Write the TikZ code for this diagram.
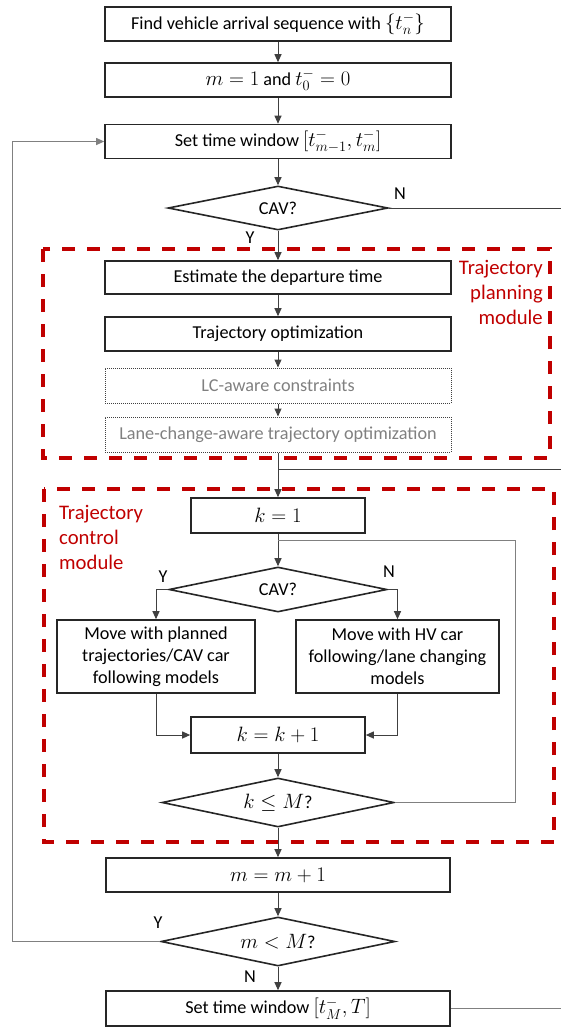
\documentclass[tikz,border=0pt]{standalone}
\usepackage{fontspec}
\setmainfont{Carlito}
\usetikzlibrary{shapes.geometric,arrows.meta}
\definecolor{dred}{HTML}{C00000}
\definecolor{conn}{HTML}{404040}
\definecolor{gline}{HTML}{808080}
\definecolor{gtext}{HTML}{808080}
\newcommand\mth[1]{{\fontsize{20}{22}\selectfont$#1$}}
\begin{document}
\begin{tikzpicture}[x=1pt,y=-1pt,
  font=\fontsize{18.2}{22}\selectfont,
  box/.style={draw=black!85, line width=1.6pt, rectangle, inner sep=0pt, align=center, text=black},
  dbox/.style={draw=black!75, densely dotted, line width=1pt, rectangle, inner sep=0pt, align=center, text=gtext},
  dia/.style={draw=black!85, line width=1.6pt, diamond, shape aspect=5, inner sep=0pt, text=black},
  arr/.style={draw=conn, line width=1pt, -{Triangle[length=8pt,width=7pt]}},
  garr/.style={draw=gline, line width=1pt, -{Triangle[length=8pt,width=7pt]}},
  ln/.style={draw=conn, line width=1pt},
  gln/.style={draw=gline, line width=1pt},
  module/.style={draw=dred, line width=3.3pt, dash pattern=on 13pt off 12pt},
  modtext/.style={text=dred, font=\fontsize{20.7}{25}\selectfont, inner sep=0pt},
  lbl/.style={text=black, inner sep=0pt}]
\useasboundingbox (0,0) rectangle (561,1028);

% module frames
\draw[module] (43,249) rectangle (550,458);
\draw[module] (44,489) rectangle (554,842);
\node[modtext, align=right, anchor=east] (mt1) at (543,292) {Trajectory\\planning\\module};
\node[modtext, align=left, anchor=west] (mt2) at (59,537) {Trajectory\\control\\module};

% main column
\node[box, minimum width=346pt, minimum height=34pt] (b1) at (278,24) {Find vehicle arrival sequence with \mth{\{t_n^-\}}};
\node[box, minimum width=346pt, minimum height=34pt] (b2) at (278,80) {\mth{m=1} and \mth{t_0^-=0}};
\node[box, minimum width=346pt, minimum height=34pt] (b3) at (278,141.5) {Set time window \mth{[t_{m-1}^-,t_m^-]}};
\node[dia, minimum width=220pt, minimum height=44pt] (d1) at (278,208) {CAV?};

\node[box, minimum width=346pt, minimum height=33pt] (e1) at (278,277.5) {Estimate the departure time};
\node[box, minimum width=346pt, minimum height=34pt] (e2) at (278,334) {Trajectory optimization};
\node[dbox, minimum width=346pt, minimum height=35pt] (e3) at (278,385.5) {LC-aware constraints};
\node[dbox, minimum width=346pt, minimum height=35pt] (e4) at (278,434.5) {Lane-change-aware trajectory optimization};

\node[box, minimum width=174pt, minimum height=35pt] (k1) at (278,515.5) {\mth{k=1}};
\node[dia, minimum width=218pt, minimum height=45pt] (d2) at (278,589.5) {CAV?};
\node[box, minimum width=198pt, minimum height=73pt] (lb) at (156,656.5) {Move with planned\\trajectories/CAV car\\following models};
\node[box, minimum width=203pt, minimum height=73pt] (rb) at (397.5,656.5) {Move with HV car\\following/lane changing\\models};
\node[box, minimum width=174pt, minimum height=36pt] (k2) at (278,735) {\mth{k=k+1}};
\node[dia, minimum width=232pt, minimum height=49pt] (d3) at (278,802.5) {\mth{k\le M}?};

\node[box, minimum width=344pt, minimum height=34pt] (m1) at (278,875) {\mth{m=m+1}};
\node[dia, minimum width=234pt, minimum height=49pt] (d4) at (278,941.5) {\mth{m<M}?};
\node[box, minimum width=344pt, minimum height=35pt] (bl) at (278,1008.5) {Set time window \mth{[t_M^-,T]}};

% connectors
\draw[arr] (b1) -- (b2);
\draw[arr] (b2) -- (b3);
\draw[arr] (b3) -- (d1);
\draw[arr] (d1) -- (e1);
\draw[arr] (e1) -- (e2);
\draw[arr] (e2) -- (e3);
\draw[arr] (e3) -- (e4);
\draw[arr] (e4) -- (k1);
\draw[arr] (k1) -- (d2);
\draw[arr] (d2.west) -| (lb.north);
\draw[arr] (d2.east) -| (rb.north);
\draw[arr] (lb.south) |- (k2.west);
\draw[arr] (rb.south) |- (k2.east);
\draw[arr] (k2) -- (d3);
\draw[arr] (d3) -- (m1);
\draw[arr] (m1) -- (d4);
\draw[arr] (d4) -- (bl);

\coordinate (lj) at (278,540);
\draw[gln] (d3.east) -| (515,540) -- (lj);
\draw[garr] (d4.west) -- (12,941.5) |- (b3.west);

\coordinate (r1) at (561,208);
\draw[ln] (d1.east) -- (r1);
\coordinate (r2) at (561,469);
\coordinate (j2) at (278,469);
\draw[ln] (r2) -- (j2);
\coordinate (r3) at (561,1008.5);
\draw[gln] (bl.east) -- (r3);

% labels
\node[lbl] (n1) at (400,194) {N};
\node[lbl] (y1) at (250,238) {Y};
\node[lbl] (y2) at (163,577) {Y};
\node[lbl] (n2) at (389,572) {N};
\node[lbl] (y4) at (158,923) {Y};
\node[lbl] (n4) at (250,977) {N};
\end{tikzpicture}
\end{document}
